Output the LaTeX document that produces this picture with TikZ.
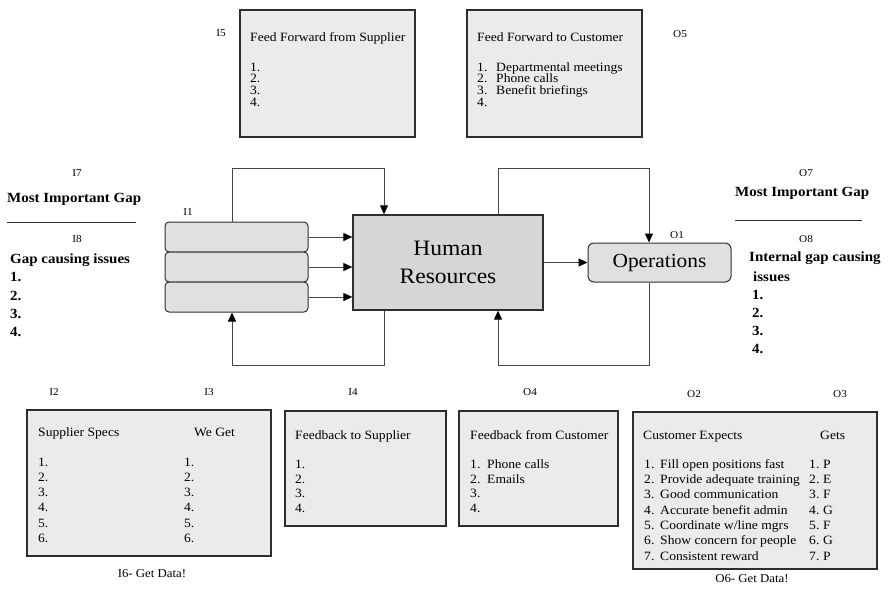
\documentclass[tikz,border=0pt]{standalone}
\usepackage{fontspec}
\setmainfont{Liberation Serif}[FakeStretch=1.07]
\usetikzlibrary{arrows.meta}
\definecolor{edgec}{HTML}{2E2E2E}
\definecolor{linec}{HTML}{454545}
\definecolor{panel}{HTML}{EBEBEB}
\definecolor{rowfill}{HTML}{E0E0E0}
\definecolor{corefill}{HTML}{D6D6D6}
\begin{document}
\begin{tikzpicture}[x=1pt,y=-1pt,
  panelbox/.style={draw=edgec, line width=1.3pt, fill=panel, inner sep=0pt},
  rowbox/.style={draw=edgec, line width=1pt, fill=rowfill, rounded corners=4pt, inner sep=0pt,
                 minimum width=143pt, minimum height=30pt},
  lbl/.style={font=\fontsize{10.5}{12}\selectfont, inner sep=0pt},
  txt/.style={font=\fontsize{12.7}{14}\selectfont, inner sep=0pt, anchor=base west},
  hd/.style={font=\bfseries\fontsize{14}{16}\selectfont, inner sep=0pt, anchor=base west},
  conn/.style={draw=linec, line width=1pt},
  arr/.style={conn, -{Triangle[length=9pt,width=8pt,color=black]}},
  rulel/.style={draw=edgec, line width=0.8pt}
]
\useasboundingbox (0,0) rectangle (888,590);

% ---------- feed-forward panels ----------
\node[panelbox, minimum width=175pt, minimum height=127pt] (ffs) at (327.5,73.5) {};
\node[panelbox, minimum width=175pt, minimum height=127pt] (fft) at (554.5,73.5) {};
\node[lbl] (lI5) at (221,33) {I5};
\node[lbl] (lO5) at (680,34) {O5};
\node[txt] (ffsT) at (250,41) {Feed Forward from Supplier};
\foreach \k in {1,...,4}
  \node[txt] (ffs\k) at (250,{71.3+(\k-1)*11.6}) {\k.};
\node[txt] (fftT) at (477,41) {Feed Forward to Customer};
\foreach \t [count=\k] in {Departmental meetings, Phone calls, Benefit briefings, {}}
  \node[txt] (fft\k) at (477,{71.3+(\k-1)*11.6}) {\makebox[19pt][l]{\k.}\t};

% ---------- process core ----------
\node[rowbox] (i1a) at (236.5,237) {};
\node[rowbox] (i1b) at (236.5,267) {};
\node[rowbox] (i1c) at (236.5,297) {};
\node[lbl] (lI1) at (188,212) {I1};

\node[draw=edgec, line width=1.3pt, fill=corefill, minimum width=190pt, minimum height=95pt,
      inner sep=0pt, align=center, font=\fontsize{22}{28}\selectfont] (hr) at (448,262.5) {Human\\Resources};
\node[draw=edgec, line width=1pt, fill=rowfill, rounded corners=6pt, minimum width=143pt,
      minimum height=39pt, inner sep=0pt, font=\fontsize{20}{24}\selectfont] (ops) at (659.5,262.5) {Operations};
\node[lbl] (lO1) at (677,235) {O1};

% loop routing points
\coordinate (upL) at (232,168);
\coordinate (upR) at (649,168);
\coordinate (dnL) at (232,365);
\coordinate (dnR) at (649,365);
\coordinate (hrA) at (384,215);
\coordinate (hrB) at (498,215);

\draw[arr] (i1a.east) -- (i1a.east -| hr.west);
\draw[arr] (i1b.east) -- (i1b.east -| hr.west);
\draw[arr] (i1c.east) -- (i1c.east -| hr.west);
\draw[arr] (hr.east) -- (ops.west);
\draw[arr] (i1a.north -| upL) -- (upL) -| (hr.north -| hrA);
\draw[arr] (hr.north -| hrB) |- (upR) -- (ops.north -| upR);
\draw[arr] (hr.south -| hrA) |- (dnL) -- (i1c.south -| dnL);
\draw[arr] (ops.south -| dnR) -- (dnR) -| (hr.south -| hrB);

% ---------- gap notes, left ----------
\node[lbl] (lI7) at (77,173) {I7};
\node[hd] (gapL) at (7,202.7) {Most Important Gap};
\draw[rulel] (7,222) -- (136,222);
\node[lbl] (lI8) at (77,239) {I8};
\node[hd] (issL) at (10,263.7) {Gap causing issues};
\foreach \k in {1,...,4}
  \node[hd] (issL\k) at (10,{281.7+(\k-1)*18.3}) {\k.};

% ---------- gap notes, right ----------
\node[lbl] (lO7) at (806,173) {O7};
\node[hd] (gapR) at (735,196.7) {Most Important Gap};
\draw[rulel] (735,220) -- (862,220);
\node[lbl] (lO8) at (806,239) {O8};
\node[hd] (issR) at (749,261.7) {Internal gap causing};
\node[hd] (issR0) at (753,281.7) {issues};
\foreach \k in {1,...,4}
  \node[hd] (issR\k) at (752,{299.7+(\k-1)*18}) {\k.};

% ---------- supplier specs ----------
\node[panelbox, minimum width=244pt, minimum height=146pt] (spec) at (149,483) {};
\node[lbl] (lI2) at (54,392) {I2};
\node[lbl] (lI3) at (209,392) {I3};
\node[txt] (specT) at (38,436.3) {Supplier Specs};
\node[txt] (getT) at (194,436.3) {We Get};
\foreach \k in {1,...,6} {
  \node[txt] (spec\k) at (38,{466.6+(\k-1)*15.1}) {\k.};
  \node[txt] (get\k) at (184,{466.6+(\k-1)*15.1}) {\k.};
}
\node[font=\fontsize{12}{14}\selectfont, inner sep=0pt] (lI6) at (152,574) {I6- Get Data!};

% ---------- feedback panels ----------
\node[panelbox, minimum width=161pt, minimum height=115pt] (fbs) at (365.5,468.5) {};
\node[panelbox, minimum width=159pt, minimum height=115pt] (fbc) at (538.5,468.5) {};
\node[lbl] (lI4) at (353,392) {I4};
\node[lbl] (lO4) at (530,392) {O4};
\node[txt] (fbsT) at (295,439.3) {Feedback to Supplier};
\foreach \k in {1,...,4}
  \node[txt] (fbs\k) at (295,{468.3+(\k-1)*14.8}) {\k.};
\node[txt] (fbcT) at (470,439.3) {Feedback from Customer};
\foreach \t [count=\k] in {Phone calls, Emails, {}, {}}
  \node[txt] (fbc\k) at (470,{468.3+(\k-1)*14.8}) {\makebox[17pt][l]{\k.}\t};

% ---------- customer expectations ----------
\node[panelbox, minimum width=244pt, minimum height=157pt] (cust) at (755,490.5) {};
\node[lbl] (lO2) at (694,394) {O2};
\node[lbl] (lO3) at (840,394) {O3};
\node[txt] (custT) at (643,439.3) {Customer Expects};
\node[txt] (getsT) at (820,439.3) {Gets};
\foreach \t/\g [count=\k] in {{Fill open positions fast}/P, {Provide adequate training}/E,
    {Good communication}/F, {Accurate benefit admin}/G, {Coordinate w{/}line mgrs}/F,
    {Show concern for people}/G, {Consistent reward}/P} {
  \node[txt] (cust\k) at (644,{468.3+(\k-1)*15.33}) {\makebox[16pt][l]{\k.}\t};
  \node[txt] (gets\k) at (809,{468.3+(\k-1)*15.33}) {\makebox[14pt][l]{\k.}\g};
}
\node[font=\fontsize{12}{14}\selectfont, inner sep=0pt] (lO6) at (752,579) {O6- Get Data!};

\end{tikzpicture}
\end{document}
